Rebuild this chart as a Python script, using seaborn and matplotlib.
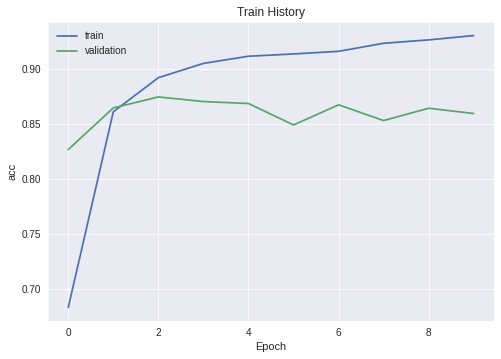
import pandas as pd
import matplotlib
matplotlib.use("Agg")
import matplotlib.pyplot as plt
import seaborn as sns

epochs = [0, 1, 2, 3, 4, 5, 6, 7, 8, 9]
train_acc = [0.683, 0.861, 0.892, 0.905, 0.9115, 0.9136, 0.916, 0.9233, 0.9264, 0.9303]
val_acc = [0.8266, 0.8645, 0.8745, 0.8703, 0.8685, 0.849, 0.8673, 0.853, 0.8642, 0.8594]
series = ["train", "validation"]

df = pd.DataFrame({
    "Epoch": epochs * 2,
    "acc": train_acc + val_acc,
    "series": [series[0]] * len(epochs) + [series[1]] * len(epochs),
})

sns.set_style("darkgrid")
plt.rcParams["font.family"] = ["Liberation Sans", "DejaVu Sans"]
plt.rcParams["text.color"] = ".15"
plt.rcParams["axes.labelcolor"] = ".15"
plt.rcParams["xtick.color"] = ".15"
plt.rcParams["ytick.color"] = ".15"

fig = plt.figure(figsize=(501 / 72, 359 / 72), dpi=72)
ax = fig.add_axes([48 / 501, 1 - 321 / 359, 446 / 501, 299 / 359])

sns.lineplot(data=df, x="Epoch", y="acc", hue="series",
             palette=["#4C72B0", "#55A868"], linewidth=1.75, ax=ax)

ax.set_title("Train History", fontsize=12)
ax.set_xlabel("Epoch", fontsize=11)
ax.set_ylabel("acc", fontsize=11)
ax.tick_params(labelsize=10)
ax.legend(loc="upper left", frameon=False, fontsize=10, title=None)

fig.savefig("out.png", dpi=72)
